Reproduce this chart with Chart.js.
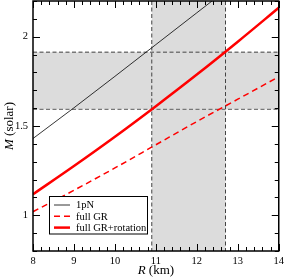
<!DOCTYPE html>
<html lang="en">
<head>
    <meta charset="UTF-8">
    <title>M-R</title>
    <script src="https://cdn.jsdelivr.net/npm/chart.js"></script>
    <style>
        * { margin: 0; padding: 0; box-sizing: border-box; }
        body { background: #fff; }
        .wrap { width: 288px; height: 279px; }
    </style>
</head>
<body>
    <div class="wrap"><canvas id="myChart"></canvas></div>

    <script>
        // radius grid (km) and masses (solar)
        const radius = [8, 9, 10, 11, 12, 13, 14];
        const massPN = [1.43, 1.602, 1.778, 1.956, 2.134, 2.312, 2.49];
        const massGR = [1.02, 1.14, 1.265, 1.395, 1.525, 1.65, 1.776];
        const massGRrot = [1.118, 1.276, 1.44, 1.611, 1.788, 1.972, 2.162];
        const labels = ['1pN', 'full GR', 'full GR+rotation'];

        const xTicks = [8, 9, 10, 11, 12, 13, 14];
        const yTicks = [1, 1.5, 2];

        // observational bands
        const massBand = [1.593, 1.913];
        const radiusBand = [10.9, 12.7];

        const serif = "'Liberation Serif', 'DejaVu Serif', serif";

        function toPoints(ys) {
            return radius.map((r, i) => ({ x: r, y: ys[i] }));
        }

        const bandsPlugin = {
            id: 'bands',
            beforeDatasetsDraw(chart) {
                const { ctx, chartArea: a, scales: { x, y } } = chart;
                const x0 = x.getPixelForValue(radiusBand[0]);
                const x1 = x.getPixelForValue(radiusBand[1]);
                const y0 = y.getPixelForValue(massBand[1]);
                const y1 = y.getPixelForValue(massBand[0]);
                ctx.save();
                ctx.fillStyle = '#dcdcdc';
                ctx.fillRect(a.left, y0, a.right - a.left, y1 - y0);
                ctx.fillRect(x0, a.top, x1 - x0, a.bottom - a.top);
                ctx.setLineDash([4, 2.5]);
                ctx.strokeStyle = '#777';
                ctx.lineWidth = 1.4;
                ctx.beginPath();
                [y0, y1].forEach(py => { ctx.moveTo(a.left, py); ctx.lineTo(a.right, py); });
                ctx.stroke();
                ctx.strokeStyle = '#444';
                ctx.lineWidth = 1;
                ctx.beginPath();
                [x0, x1].forEach(px => { ctx.moveTo(px, a.top); ctx.lineTo(px, a.bottom); });
                ctx.stroke();
                ctx.restore();
            }
        };

        const framePlugin = {
            id: 'frame',
            afterDraw(chart) {
                const { ctx, chartArea: a, scales: { x, y } } = chart;
                ctx.save();
                ctx.strokeStyle = '#000';
                ctx.lineWidth = 1;
                ctx.beginPath();
                // x ticks, major every 1, minor every 0.2, on bottom and top
                for (let v = 8; v <= 14.001; v += 0.2) {
                    const px = Math.round(x.getPixelForValue(v)) + 0.5;
                    const major = Math.abs(v - Math.round(v)) < 0.01;
                    const len = major ? 7 : 4;
                    ctx.moveTo(px, a.bottom); ctx.lineTo(px, a.bottom - len);
                    ctx.moveTo(px, a.top); ctx.lineTo(px, a.top + len);
                }
                // y ticks, major every 0.5, minor every 0.1, on left and right
                for (let v = 0.8; v <= 2.2001; v += 0.1) {
                    const py = Math.round(y.getPixelForValue(v)) + 0.5;
                    const major = Math.abs(v * 2 - Math.round(v * 2)) < 0.01;
                    const len = major ? 7 : 4;
                    ctx.moveTo(a.left, py); ctx.lineTo(a.left + len, py);
                    ctx.moveTo(a.right, py); ctx.lineTo(a.right - len, py);
                }
                ctx.stroke();
                ctx.lineWidth = 1.5;
                ctx.strokeRect(a.left, a.top, a.right - a.left, a.bottom - a.top);

                // axis titles
                ctx.fillStyle = '#000';
                ctx.textBaseline = 'alphabetic';
                const cx = (a.left + a.right) / 2;
                ctx.font = 'italic 13px ' + serif;
                const wR = ctx.measureText('R ').width;
                ctx.font = '13px ' + serif;
                const wK = ctx.measureText('(km)').width;
                let sx = cx - (wR + wK) / 2;
                ctx.font = 'italic 13px ' + serif;
                ctx.fillText('R ', sx, 274);
                ctx.font = '13px ' + serif;
                ctx.fillText('(km)', sx + wR, 274);

                ctx.translate(13, (a.top + a.bottom) / 2);
                ctx.rotate(-Math.PI / 2);
                ctx.font = 'italic 13px ' + serif;
                const wM = ctx.measureText('M ').width;
                ctx.font = '13px ' + serif;
                const wS = ctx.measureText('(solar)').width;
                sx = -(wM + wS) / 2;
                ctx.font = 'italic 13px ' + serif;
                ctx.fillText('M ', sx, 0);
                ctx.font = '13px ' + serif;
                ctx.fillText('(solar)', sx + wM, 0);
                ctx.restore();
            }
        };

        const legendPlugin = {
            id: 'boxLegend',
            afterDraw(chart) {
                const { ctx } = chart;
                const bx = 49.5, by = 196.5, bw = 98, bh = 37.5;
                ctx.save();
                ctx.fillStyle = '#fff';
                ctx.fillRect(bx, by, bw, bh);
                ctx.strokeStyle = '#000';
                ctx.lineWidth = 1;
                ctx.strokeRect(bx, by, bw, bh);
                ctx.font = '10.5px ' + serif;
                ctx.textBaseline = 'middle';
                chart.data.datasets.forEach((ds, i) => {
                    const ly = 205 + i * 11.3;
                    ctx.strokeStyle = ds.borderColor;
                    ctx.lineWidth = ds.borderWidth;
                    ctx.setLineDash(ds.borderDash || []);
                    ctx.beginPath();
                    ctx.moveTo(54, ly);
                    ctx.lineTo(70, ly);
                    ctx.stroke();
                    ctx.setLineDash([]);
                    ctx.fillStyle = '#000';
                    ctx.fillText(ds.label, 76, ly + 0.5);
                });
                ctx.restore();
            }
        };

        const config = {
            type: 'line',
            data: {
                datasets: [
                    {
                        label: labels[0],
                        data: toPoints(massPN),
                        borderColor: '#000',
                        borderWidth: 0.8,
                    },
                    {
                        label: labels[1],
                        data: toPoints(massGR),
                        borderColor: '#ff0000',
                        borderWidth: 1.5,
                        borderDash: [6, 4],
                    },
                    {
                        label: labels[2],
                        data: toPoints(massGRrot),
                        borderColor: '#ff0000',
                        borderWidth: 2.5,
                    },
                ]
            },
            plugins: [bandsPlugin, framePlugin, legendPlugin],
            options: {
                responsive: true,
                maintainAspectRatio: false,
                animation: false,
                elements: {
                    point: { radius: 0 },
                    line: { cubicInterpolationMode: 'monotone', fill: false }
                },
                layout: { padding: { top: 1, right: 6, left: 0, bottom: 0 } },
                plugins: {
                    legend: { display: false },
                    tooltip: { enabled: false }
                },
                scales: {
                    x: {
                        type: 'linear',
                        min: 8,
                        max: 14,
                        afterBuildTicks: s => { s.ticks = xTicks.map(v => ({ value: v })); },
                        afterFit: s => { s.height = 28; },
                        grid: { display: false, drawTicks: false },
                        border: { display: false },
                        ticks: {
                            padding: 4,
                            color: '#000',
                            font: { family: serif, size: 10.5 },
                            maxRotation: 0,
                            callback: v => String(v)
                        }
                    },
                    y: {
                        type: 'linear',
                        min: 0.8,
                        max: 2.2,
                        afterBuildTicks: s => { s.ticks = yTicks.map(v => ({ value: v })); },
                        afterFit: s => { s.width = 33; s.paddingTop = 0; s.paddingBottom = 0; },
                        grid: { display: false, drawTicks: false },
                        border: { display: false },
                        ticks: {
                            padding: 5,
                            color: '#000',
                            font: { family: serif, size: 10.5 },
                            callback: v => String(v)
                        }
                    }
                }
            }
        };

        new Chart(document.getElementById('myChart'), config);
    </script>
</body>
</html>
